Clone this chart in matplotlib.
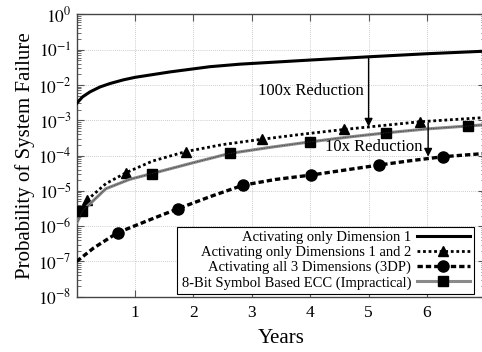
import matplotlib
matplotlib.use("Agg")
import matplotlib.pyplot as plt
import matplotlib.ticker as ticker
from matplotlib.lines import Line2D

plt.rcParams["font.family"] = ["Liberation Serif", "DejaVu Serif"]
plt.rcParams["mathtext.fontset"] = "stix"

# Data (years, probability)
dim1_years = [0.0, 0.1, 0.23, 0.4, 0.57, 0.8, 1.0, 1.6, 2.28, 2.8, 4.0, 5.0, 6.0, 7.0]
dim1_prob = [3.0e-3, 4.6e-3, 6.4e-3, 8.8e-3, 1.1e-2, 1.4e-2, 1.65e-2, 2.35e-2, 3.3e-2,
             3.9e-2, 5.1e-2, 6.3e-2, 7.7e-2, 9.1e-2]

dim12_years = [0.02, 0.18, 0.5, 0.85, 1.3, 1.87, 2.5, 3.17, 3.9, 4.58, 5.2, 5.88, 7.0]
dim12_prob = [2.2e-6, 5.5e-6, 1.6e-5, 3.3e-5, 7.0e-5, 1.3e-4, 2.05e-4, 2.9e-4, 4.1e-4,
              5.5e-4, 7.0e-4, 9.1e-4, 1.2e-3]
dim12_marks = [1, 3, 5, 7, 9, 11]

dim3_years = [0.0, 0.29, 0.70, 1.2, 1.73, 2.3, 2.85, 3.4, 4.01, 4.6, 5.18, 5.7, 6.28, 7.0]
dim3_prob = [1.0e-7, 2.4e-7, 6.5e-7, 1.4e-6, 3.1e-6, 7.0e-6, 1.45e-5, 2.1e-5, 2.8e-5,
             3.9e-5, 5.4e-5, 7.1e-5, 9.3e-5, 1.15e-4]
dim3_marks = [2, 4, 6, 8, 10, 12]

ecc_years = [0.01, 0.10, 0.5, 0.9, 1.29, 2.0, 2.62, 3.3, 4.0, 4.65, 5.30, 6.0, 6.70, 7.0]
ecc_prob = [1.3e-6, 2.7e-6, 1.15e-5, 2.1e-5, 3.1e-5, 6.3e-5, 1.15e-4, 1.7e-4, 2.45e-4,
            3.35e-4, 4.4e-4, 5.7e-4, 6.9e-4, 7.5e-4]
ecc_marks = [1, 4, 6, 8, 10, 12]

labels = ["Activating only Dimension 1",
          "Activating only Dimensions 1 and 2",
          "Activating all 3 Dimensions (3DP)",
          "8-Bit Symbol Based ECC (Impractical)"]

x_ticks = [1, 2, 3, 4, 5, 6, 7]
y_exps = list(range(-8, 1))

fig = plt.figure(figsize=(4.82, 3.52), dpi=100)
ax = fig.add_axes([0.159, 0.157, 0.848, 0.802])

style_dim1 = dict(color="black", lw=2.2, ls="-")
style_dim12 = dict(color="black", lw=2.0, ls=(0, (1, 1)), marker="^", ms=7.5)
style_dim3 = dict(color="black", lw=2.4, ls=(0, (1.6, 0.9)), marker="o", ms=8)
style_ecc = dict(color="#8a8a8a", lw=2.2, ls="-", marker="s", ms=6.5, mfc="black", mec="black")

ax.plot(dim1_years, dim1_prob, **style_dim1, zorder=3)
ax.plot(dim12_years, dim12_prob, markevery=dim12_marks, **style_dim12, zorder=3)
ax.plot(dim3_years, dim3_prob, markevery=dim3_marks, **style_dim3, zorder=3)
ax.plot(ecc_years, ecc_prob, markevery=ecc_marks, **style_ecc, zorder=3)
# dark dotted texture on the gray ECC line
ax.plot(ecc_years, ecc_prob, color="#333333", lw=0.6, ls=(0, (1, 1)), zorder=3)

ax.set_yscale("log")
ax.set_xlim(0, 7)
ax.set_ylim(1e-8, 1)
ax.set_xticks(x_ticks)
ax.set_xticklabels([str(t) for t in x_ticks])
ax.set_yticks([10.0 ** e for e in y_exps])
ax.set_yticklabels([r"$10^{%d}$" % e for e in y_exps])
ax.yaxis.set_minor_locator(ticker.LogLocator(base=10, subs=range(2, 10), numticks=20))
ax.yaxis.set_minor_formatter(ticker.NullFormatter())

ax.tick_params(axis="both", which="both", direction="in", top=True, right=True,
               labelsize=12.5, color="#555555")
ax.tick_params(axis="both", which="major", length=5, width=0.8)
ax.tick_params(axis="y", which="minor", length=3, width=0.6)
ax.tick_params(axis="x", pad=6)
ax.grid(True, which="major", color="#bbbbbb", ls=(0, (1, 1.5)), lw=0.6)
for sp in ax.spines.values():
    sp.set_color("#444444")
    sp.set_linewidth(1.0)

ax.set_xlabel("Years", fontsize=15, labelpad=6)
ax.set_ylabel("Probability of System Failure", fontsize=15, labelpad=2)

# Reduction arrows
ax.annotate("", xy=(5.0, 6.6e-4), xytext=(5.0, 6.3e-2),
            arrowprops=dict(arrowstyle="-|>", color="black", lw=1.0, mutation_scale=12,
                            shrinkA=0, shrinkB=0))
ax.text(4.02, 6.9e-3, "100x Reduction", ha="center", va="center", fontsize=12)
ax.annotate("", xy=(6.02, 9.3e-5), xytext=(6.02, 8.5e-4),
            arrowprops=dict(arrowstyle="-|>", color="black", lw=1.0, mutation_scale=12,
                            shrinkA=0, shrinkB=0))
ax.text(5.09, 1.78e-4, "10x Reduction", ha="center", va="center", fontsize=12)

handles = [Line2D([], [], **style_dim1),
           Line2D([], [], **style_dim12),
           Line2D([], [], **style_dim3),
           Line2D([], [], **style_ecc)]
leg = ax.legend(handles, labels, loc="lower right", bbox_to_anchor=(0.972, 0.01),
                borderaxespad=0, markerfirst=False, fontsize=10.5, handlelength=3.6,
                labelspacing=0.12, handletextpad=0.4, borderpad=0.3, fancybox=False,
                framealpha=1, edgecolor="black")
leg.get_frame().set_linewidth(0.8)
leg._legend_box.align = "right"
leg.set_zorder(5)

fig.savefig("out.png", dpi=100)
